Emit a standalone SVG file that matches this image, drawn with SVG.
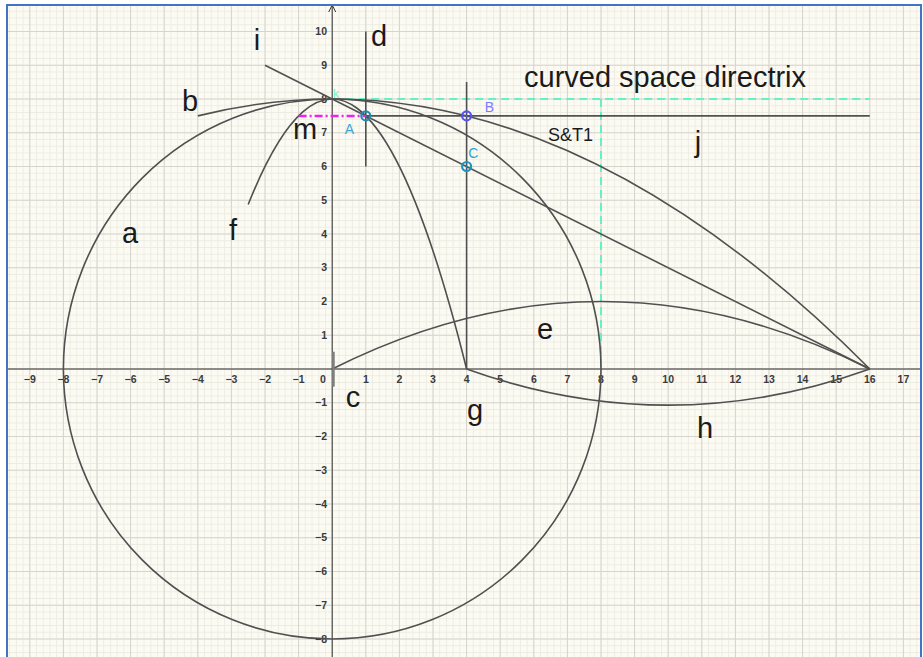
<svg xmlns="http://www.w3.org/2000/svg" width="923" height="657" viewBox="0 0 923 657">
<style>
.ax{font-family:"Liberation Sans",Arial,sans-serif;font-size:10.5px;font-weight:bold;fill:#3a3a3a;}
.xl{text-anchor:middle;}
.yl{text-anchor:end;}
.big{font-family:"Liberation Sans",Arial,sans-serif;font-size:29px;fill:#1a1a1a;}
.mid{text-anchor:middle;}
.crv{fill:none;stroke:#505050;stroke-width:1.6;}
.pt{fill:none;stroke-width:2.2;}
.plbl{font-family:"Liberation Sans",Arial,sans-serif;font-size:14px;text-anchor:middle;}
.aux{fill:none;stroke:#66f0c6;stroke-width:2;stroke-dasharray:8 5;}
</style>
<defs>
<pattern id="minor" x="331.7" y="368.5" width="6.72" height="6.75" patternUnits="userSpaceOnUse">
<rect x="0" y="0" width="1" height="6.75" fill="#eeece2"/>
<rect x="0" y="0" width="6.72" height="1" fill="#eeece2"/>
</pattern>
<pattern id="major" x="331.7" y="368.5" width="33.6" height="33.75" patternUnits="userSpaceOnUse">
<rect x="0" y="0" width="1" height="33.75" fill="#d6d4cc"/>
<rect x="0" y="0" width="33.6" height="1" fill="#d6d4cc"/>
</pattern>
</defs>
<rect width="923" height="657" fill="#ffffff"/>
<g id="grid">
<rect x="7" y="5" width="914" height="652" fill="#fcfbf3"/>
<rect x="7" y="5" width="914" height="652" fill="url(#minor)"/>
<rect x="7" y="5" width="914" height="652" fill="url(#major)"/>
</g>
<g id="axes" stroke="#333" stroke-width="1" fill="none">
<line x1="7" y1="369" x2="921" y2="369"/>
<line x1="332.2" y1="5" x2="332.2" y2="657"/>
<polyline points="328.7,12 332.2,5 335.7,12"/>
</g>
<g id="axis-labels" class="ax">
<g class="xl">
<text x="29.8" y="383">−9</text><text x="63.4" y="383">−8</text><text x="97" y="383">−7</text>
<text x="130.6" y="383">−6</text><text x="164.2" y="383">−5</text><text x="197.8" y="383">−4</text>
<text x="231.4" y="383">−3</text><text x="265" y="383">−2</text><text x="298.6" y="383">−1</text>
<text x="323" y="383">0</text>
<text x="365.8" y="383">1</text><text x="399.4" y="383">2</text><text x="433" y="383">3</text>
<text x="466.6" y="383">4</text><text x="500.2" y="383">5</text><text x="533.8" y="383">6</text>
<text x="567.4" y="383">7</text><text x="601" y="383">8</text><text x="634.6" y="383">9</text>
<text x="668.2" y="383">10</text><text x="701.8" y="383">11</text><text x="735.4" y="383">12</text>
<text x="769" y="383">13</text><text x="802.6" y="383">14</text><text x="836.2" y="383">15</text>
<text x="869.8" y="383">16</text><text x="903.4" y="383">17</text>
</g>
<g class="yl">
<text x="327" y="35">10</text><text x="327" y="68.8">9</text><text x="327" y="102.5">8</text>
<text x="327" y="136.3">7</text><text x="327" y="170">6</text><text x="327" y="203.8">5</text>
<text x="327" y="237.5">4</text><text x="327" y="271.3">3</text><text x="327" y="305">2</text>
<text x="327" y="338.8">1</text>
<text x="327" y="406.3">−1</text><text x="327" y="440">−2</text><text x="327" y="473.8">−3</text>
<text x="327" y="507.5">−4</text><text x="327" y="541.3">−5</text><text x="327" y="575">−6</text>
<text x="327" y="608.8">−7</text><text x="327" y="642.5">−8</text>
</g>
</g>
<g id="connectors">
<g id="aux-lines">
<line class="aux" x1="332.2" y1="99" x2="869.8" y2="99"/>
<line class="aux" x1="601" y1="99" x2="601" y2="369"/>
</g>
<g id="a"><ellipse class="crv" cx="332.2" cy="369" rx="268.8" ry="270"/></g>
<g id="b-curve"><path class="crv" d="M197.8,115.9 Q533.8,31.5 869.8,369"/></g>
<g id="f-curve"><path class="crv" d="M248.2,204.5 Q357.4,-69.75 466.6,369"/></g>
<g id="e-curve"><path class="crv" d="M332.2,369 Q601,234 869.8,369"/></g>
<g id="h-curve"><path class="crv" d="M466.6,369 Q668.2,441.3 869.8,369"/></g>
<g id="i-line"><line class="crv" x1="265" y1="65.25" x2="869.8" y2="369"/></g>
<g id="d-line"><line class="crv" x1="365.8" y1="31.5" x2="365.8" y2="166.5"/></g>
<g id="g-line"><line class="crv" x1="466.6" y1="82.1" x2="466.6" y2="369"/></g>
<g id="j-line"><line class="crv" x1="365.8" y1="115.9" x2="869.8" y2="115.9" stroke-width="1.8"/></g>
<g id="m-line"><line x1="298.6" y1="115.9" x2="365.8" y2="115.9" stroke="#ee22ee" stroke-width="2.5" stroke-dasharray="8 3 2 3"/></g>
<g id="c-seg"><line x1="333.5" y1="351.7" x2="333.5" y2="386.7" stroke="#808080" stroke-width="2.5"/></g>
</g>
<g id="point-A"><circle class="pt" cx="365.8" cy="115.9" r="4.5" stroke="#1e8db5"/><circle cx="365.8" cy="115.9" r="1" fill="#1e8db5"/><text class="plbl" x="349.3" y="134" fill="#3aa5d8">A</text></g>
<g id="point-B"><circle class="pt" cx="466.6" cy="115.9" r="4.5" stroke="#5555ee"/><circle cx="466.6" cy="115.9" r="1" fill="#5555ee"/><text class="plbl" x="489.3" y="112" fill="#7b7bff">B</text></g>
<g id="point-C"><circle class="pt" cx="466.6" cy="166.5" r="4.5" stroke="#1e95c0"/><circle cx="466.6" cy="166.5" r="1" fill="#1e95c0"/><text class="plbl" x="473.3" y="158" fill="#2aa5d5">C</text></g>
<g id="label-k"><text x="336" y="97.5" font-family="Liberation Sans, Arial, sans-serif" font-size="12" fill="#6ef0c8" text-anchor="middle">k</text></g>
<g id="labels" class="big">
<text class="mid" x="257" y="50">i</text>
<text class="mid" x="379" y="46">d</text>
<text class="mid" x="190" y="111">b</text>
<text class="mid" x="305" y="139">m</text>
<text class="mid" x="130" y="243">a</text>
<text class="mid" x="233" y="240">f</text>
<text x="524" y="87">curved space directrix</text>
<text x="548" y="141" font-size="18">S&amp;T1</text>
<text class="mid" x="698" y="152">j</text>
<text class="mid" x="545" y="339">e</text>
<text class="mid" x="353" y="407">c</text>
<text class="mid" x="475" y="420">g</text>
<text class="mid" x="705" y="438">h</text>
</g>
<g id="frame"><rect x="7" y="5" width="914" height="660" fill="none" stroke="#4472c4" stroke-width="2"/></g>
</svg>
